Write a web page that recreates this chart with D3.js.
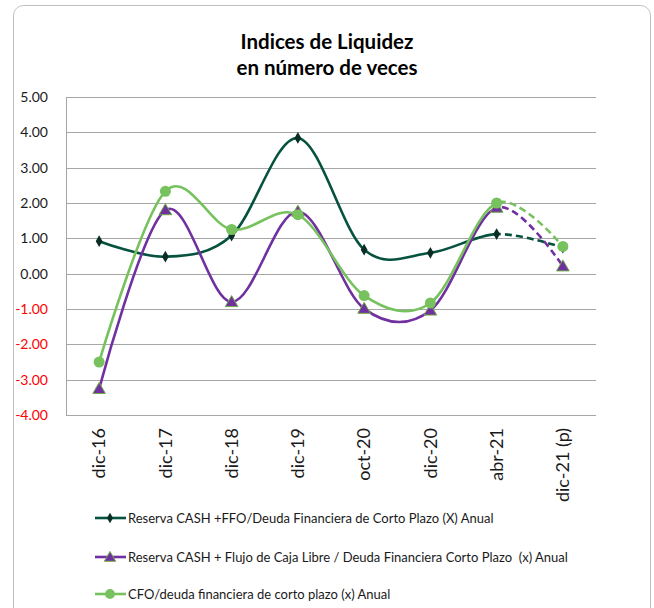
<!DOCTYPE html>
<html>
<head>
<meta charset="utf-8">
<script src="https://cdn.jsdelivr.net/npm/d3@7"></script>
<style>
  body { margin: 0; background: #fff; }
  text { font-family: Lato, "Open Sans", sans-serif; white-space: pre; }
</style>
</head>
<body>
<div id="chart"></div>
<script>
// data
const categories = ["dic-16", "dic-17", "dic-18", "dic-19", "oct-20", "dic-20", "abr-21", "dic-21 (p)"];
const cashFfo = [0.92, 0.48, 1.08, 3.84, 0.68, 0.59, 1.12, 0.74];
const cashFcl = [-3.26, 1.80, -0.80, 1.76, -0.99, -1.04, 1.87, 0.21];
const cfoDeuda = [-2.50, 2.33, 1.25, 1.67, -0.62, -0.83, 2.00, 0.77];
const yTicks = [5, 4, 3, 2, 1, 0, -1, -2, -3, -4];
const seriesNames = [
  "Reserva CASH +FFO/Deuda Financiera de Corto Plazo (X) Anual",
  "Reserva CASH + Flujo de Caja Libre / Deuda Financiera Corto Plazo  (x) Anual",
  "CFO/deuda financiera de corto plazo (x) Anual"
];

const W = 654, H = 608;
const margin = { top: 97, right: 58, bottom: 193, left: 66 };
const width = W - margin.left - margin.right;
const height = H - margin.top - margin.bottom;

const svg = d3.select("#chart").append("svg")
  .attr("width", W).attr("height", H);

// outer frame
svg.append("rect")
  .attr("x", 13.5).attr("y", 5.5).attr("width", 637).attr("height", 620)
  .attr("rx", 10).attr("fill", "#fff").attr("stroke", "#bfbfbf");

// title
const title = svg.append("text")
  .attr("text-anchor", "middle")
  .style("font-size", "20.5px").style("font-weight", "bold").attr("fill", "#000");
title.append("tspan").attr("x", 327).attr("y", 49).text("Indices de Liquidez");
title.append("tspan").attr("x", 327).attr("y", 75).text("en número de veces");

const g = svg.append("g").attr("transform", `translate(${margin.left},${margin.top})`);

const x = d3.scaleBand().domain(categories).range([0, width]);
const y = d3.scaleLinear().domain([-4, 5]).range([height, 0]);
const cx = d => x(d) + x.bandwidth() / 2;

// gridlines
g.selectAll(".grid").data(yTicks).enter().append("line")
  .attr("x1", 0).attr("x2", width)
  .attr("y1", d => Math.round(y(d)) + 0.5).attr("y2", d => Math.round(y(d)) + 0.5)
  .attr("stroke", "#a6a6a6").attr("stroke-width", 1);

// left axis line
g.append("line").attr("x1", 0.5).attr("x2", 0.5).attr("y1", 0).attr("y2", height)
  .attr("stroke", "#a6a6a6");

// y tick labels
g.selectAll(".ylab").data(yTicks).enter().append("text")
  .attr("x", -18).attr("y", d => y(d)).attr("dy", "0.35em")
  .attr("text-anchor", "end").style("font-size", "14px")
  .attr("fill", d => d < 0 ? "#ff0000" : "#1a1a1a")
  .text(d => d.toFixed(2));

// x tick labels (rotated)
g.selectAll(".xlab").data(categories).enter().append("text")
  .attr("transform", d => `translate(${cx(d)},${height + 13}) rotate(-90)`)
  .attr("dy", "0.35em").attr("text-anchor", "end")
  .style("font-size", "18px").attr("fill", "#1a1a1a")
  .text(d => d);

// clip regions: solid up to abr-21, dashed after
const splitX = cx(categories[6]);
const defs = svg.append("defs");
defs.append("clipPath").attr("id", "clipSolid").append("rect")
  .attr("x", -10).attr("y", -50).attr("width", splitX + 10).attr("height", height + 100);
defs.append("clipPath").attr("id", "clipDash").append("rect")
  .attr("x", splitX).attr("y", -50).attr("width", width).attr("height", height + 100);

const line = d3.line()
  .x((d, i) => cx(categories[i]))
  .y(d => y(d))
  .curve(d3.curveCardinal.tension(0));

const series = [
  { values: cashFfo, color: "#07523f", marker: "diamond" },
  { values: cashFcl, color: "#7030a0", marker: "triangle" },
  { values: cfoDeuda, color: "#77c25e", marker: "circle" }
];

function drawMarker(sel, s, px, py, scale) {
  const k = scale || 1;
  if (s.marker === "diamond") {
    sel.append("path")
      .attr("d", d3.symbol(d3.symbolDiamond, 40 * k)())
      .attr("transform", `translate(${px},${py})`)
      .attr("fill", "#0a2e25");
  } else if (s.marker === "triangle") {
    sel.append("path")
      .attr("d", d3.symbol(d3.symbolTriangle, 70 * k)())
      .attr("transform", `translate(${px},${py + 1})`)
      .attr("fill", "#7030a0").attr("stroke", "#70ad47").attr("stroke-width", 1);
  } else {
    sel.append("circle").attr("cx", px).attr("cy", py).attr("r", 5.5 * Math.sqrt(k))
      .attr("fill", "#77c25e");
  }
}

series.forEach(s => {
  g.append("path").datum(s.values)
    .attr("d", line).attr("fill", "none")
    .attr("stroke", s.color).attr("stroke-width", 2.6)
    .attr("clip-path", "url(#clipSolid)");
  g.append("path").datum(s.values)
    .attr("d", line).attr("fill", "none")
    .attr("stroke", s.color).attr("stroke-width", 2.6)
    .attr("stroke-dasharray", "7,4")
    .attr("clip-path", "url(#clipDash)");
});

series.forEach(s => {
  s.values.forEach((v, i) => drawMarker(g, s, cx(categories[i]), y(v)));
});

// legend
const legendY = [518, 557, 594];
series.forEach((s, i) => {
  const ly = legendY[i];
  svg.append("line").attr("x1", 95).attr("x2", 126).attr("y1", ly).attr("y2", ly)
    .attr("stroke", s.color).attr("stroke-width", 2.6);
  drawMarker(svg, s, 110, ly, 0.8);
  svg.append("text").attr("x", 128).attr("y", ly).attr("dy", "0.35em")
    .style("font-size", "13px").attr("fill", "#1a1a1a")
    .text(seriesNames[i]);
});
</script>
</body>
</html>
